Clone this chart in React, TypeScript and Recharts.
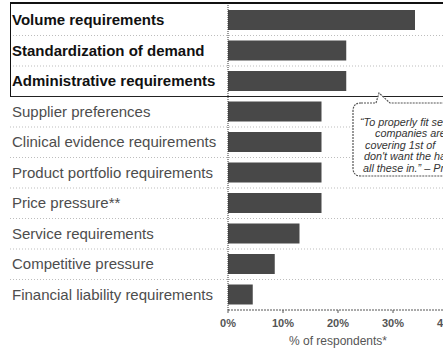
import React from "react";
import { BarChart, Bar, XAxis, YAxis } from "recharts";

const categories = [
  "Volume requirements",
  "Standardization of demand",
  "Administrative requirements",
  "Supplier preferences",
  "Clinical evidence requirements",
  "Product portfolio requirements",
  "Price pressure**",
  "Service requirements",
  "Competitive pressure",
  "Financial liability requirements",
];
const values = [34, 21.5, 21.5, 17, 17, 17, 17, 13, 8.5, 4.5];
const highlighted = [true, true, true, false, false, false, false, false, false, false];
const xTicks = [0, 10, 20, 30, 40];
const axisTitle = "% of respondents*";
const quoteLines = [
  "\u201CTo properly fit service",
  "companies are",
  "covering 1st of",
  "don't want the hassle",
  "all these in.\u201D \u2013 Procurement",
];

const data = categories.map((name, i) => ({ name, value: values[i], bold: highlighted[i] }));

const FONT = "'Liberation Sans', Arial, sans-serif";
const CHART_W = 460;
const CHART_H = 352;
const MARGIN = { top: 5, right: 12, bottom: 0, left: 0 };
const X_AXIS_H = 42;
const HALF_BAND = (CHART_H - MARGIN.top - MARGIN.bottom - X_AXIS_H) / categories.length / 2;

const CategoryTick = (props: any) => {
  const { y, payload, index } = props;
  const bold = highlighted[index];
  const last = index === categories.length - 1;
  return (
    <g>
      {!last && (
        <line
          x1={10}
          x2={CHART_W}
          y1={y + HALF_BAND}
          y2={y + HALF_BAND}
          stroke="#bdbdbd"
          strokeWidth={1}
          strokeDasharray="1 2"
        />
      )}
      <text
        x={12}
        y={y}
        dy={5}
        textAnchor="start"
        fontFamily={FONT}
        fontSize={15}
        fontWeight={bold ? 700 : 400}
        fill={bold ? "#111" : "#4d4d4d"}
      >
        {payload.value}
      </text>
    </g>
  );
};

export default function App() {
  return (
    <div
      style={{
        position: "absolute",
        left: 0,
        top: 0,
        width: 443,
        height: 352,
        overflow: "hidden",
        background: "#fff",
        fontFamily: FONT,
      }}
    >
      <BarChart
        width={CHART_W}
        height={CHART_H}
        data={data}
        layout="vertical"
        margin={MARGIN}
      >
        <XAxis
          type="number"
          domain={[0, 40]}
          ticks={xTicks}
          tickFormatter={(v: number) => `${v}%`}
          height={X_AXIS_H}
          axisLine={{ stroke: "#555", strokeDasharray: "2 1" }}
          tickLine={{ stroke: "#555" }}
          tickSize={3}
          tickMargin={6}
          tick={{ fontSize: 11, fontFamily: FONT, fill: "#555", fontWeight: 700 }}
          label={{
            value: axisTitle,
            position: "insideBottom",
            offset: 7,
            fontSize: 12,
            fontFamily: FONT,
            fill: "#555",
          }}
        />
        <YAxis
          type="category"
          dataKey="name"
          width={228}
          axisLine={{ stroke: "#333", strokeDasharray: "1 1" }}
          tickLine={false}
          tick={<CategoryTick />}
          interval={0}
        />
        <Bar dataKey="value" fill="#484848" barSize={20} isAnimationActive={false} />
      </BarChart>
      <div
        style={{
          position: "absolute",
          left: 10,
          top: 2,
          width: 470,
          height: 92,
          borderLeft: "1.5px solid #111",
          borderBottom: "1.5px solid #222",
          borderTop: "2.5px solid #111",
          pointerEvents: "none",
        }}
      />
      <svg
        width={443}
        height={352}
        style={{ position: "absolute", left: 0, top: 0, pointerEvents: "none" }}
      >
        <path
          d="M 361 103 L 376 103 L 379 93 L 390 103 L 460 103 L 460 176 L 361 176 Q 353 176 353 168 L 353 111 Q 353 103 361 103 Z"
          fill="#fff"
          stroke="#555"
          strokeWidth={1.2}
          strokeDasharray="2 1"
        />
        {quoteLines.map((line, i) => (
          <text
            key={i}
            x={[360, 375, 365, 364, 363][i]}
            y={125.5 + i * 11.5}
            fontFamily={FONT}
            fontSize={10.8}
            fontStyle="italic"
            fill="#333"
          >
            {line}
          </text>
        ))}
      </svg>
    </div>
  );
}
